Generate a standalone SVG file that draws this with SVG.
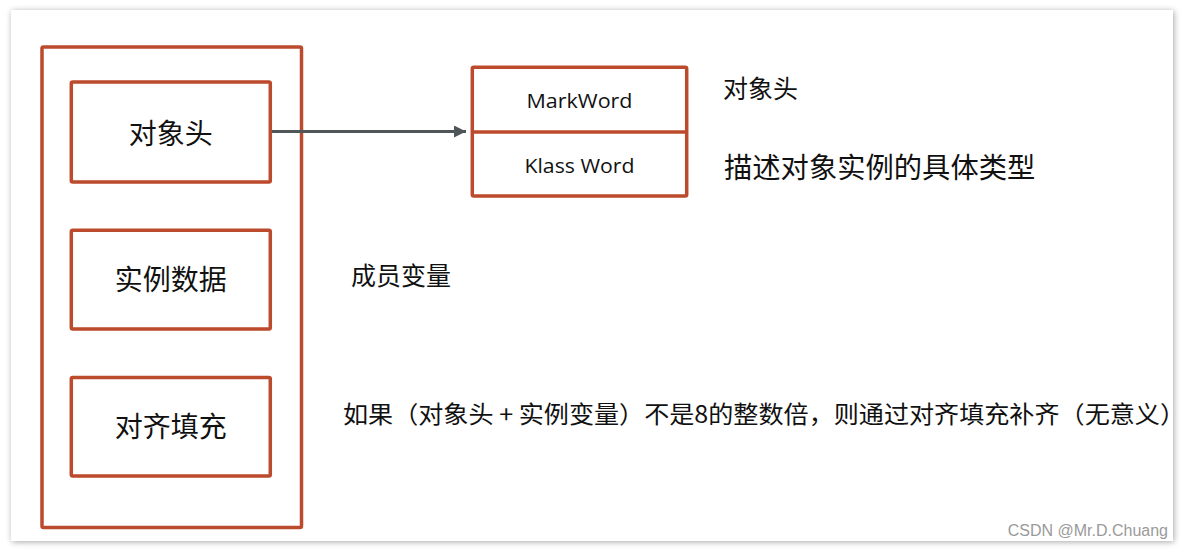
<svg xmlns="http://www.w3.org/2000/svg" width="1184" height="550" viewBox="0 0 1184 550">
<defs>
<style>
.box{fill:#ffffff;stroke:#BC4A2C;stroke-width:3.5;}
.cn{font-family:"Noto Sans CJK SC","Noto Sans",sans-serif;fill:#111111;}
.lat{font-family:"Open Sans","Noto Sans","Noto Sans CJK SC",sans-serif;fill:#111111;}
.conn{stroke:#4F5657;stroke-width:3.2;fill:none;}
</style>
<filter id="sh" x="-5%" y="-5%" width="110%" height="110%">
<feGaussianBlur in="SourceAlpha" stdDeviation="3"/>
<feOffset dx="1" dy="1" result="b"/>
<feComponentTransfer><feFuncA type="linear" slope="0.35"/></feComponentTransfer>
<feMerge><feMergeNode/><feMergeNode in="SourceGraphic"/></feMerge>
</filter>
<marker id="arr" markerWidth="12" markerHeight="12" refX="12" refY="6" orient="auto" markerUnits="userSpaceOnUse">
<path d="M0,0 L12,6 L0,12 Z" fill="#4F5657"/>
</marker>
</defs>
<rect x="0" y="0" width="1184" height="550" fill="#ffffff"/>
<rect x="11" y="10" width="1162" height="531" fill="#ffffff" filter="url(#sh)"/>

<g id="object">
<rect class="box" x="42" y="47" width="259.5" height="480.5" rx="1.5"/>
</g>
<g id="header">
<rect class="box" x="71.3" y="82" width="199" height="100" rx="1.5"/>
<text class="cn" x="170.8" y="144" font-size="28" text-anchor="middle">对象头</text>
</g>
<g id="instance-data">
<rect class="box" x="71.3" y="230.3" width="199" height="98.7" rx="1.5"/>
<text class="cn" x="170.8" y="290" font-size="28" text-anchor="middle">实例数据</text>
</g>
<g id="padding">
<rect class="box" x="71.3" y="377.5" width="199" height="98.5" rx="1.5"/>
<text class="cn" x="170.8" y="437" font-size="28" text-anchor="middle">对齐填充</text>
</g>
<g id="header-detail">
<rect class="box" x="472.3" y="67.3" width="214.4" height="128.7" rx="1.5"/>
<line x1="472.3" y1="132" x2="686.7" y2="132" stroke="#BC4A2C" stroke-width="3.5"/>
<text class="lat" x="579.5" y="108" font-size="20.5" text-anchor="middle" textLength="106" lengthAdjust="spacingAndGlyphs">MarkWord</text>
<text class="lat" x="579.5" y="173" font-size="20.5" text-anchor="middle" textLength="110" lengthAdjust="spacingAndGlyphs">Klass Word</text>
</g>
<g id="connectors">
<line class="conn" x1="272" y1="131.5" x2="466" y2="131.5" marker-end="url(#arr)"/>
</g>
<g id="labels">
<text class="cn" x="723" y="98" font-size="25" fill="#222">对象头</text>
<text class="cn" x="724" y="178" font-size="28.3" fill="#222">描述对象实例的具体类型</text>
<text class="cn" x="351" y="285" font-size="25" fill="#222">成员变量</text>
<text class="cn" x="343" y="423" font-size="24" fill="#222" textLength="842" lengthAdjust="spacingAndGlyphs">如果（对象头 + 实例变量）不是8的整数倍，则通过对齐填充补齐（无意义）</text>
<text x="1168" y="536" font-family="'Liberation Sans',sans-serif" font-size="16" fill="#9a9a9a" text-anchor="end">CSDN @Mr.D.Chuang</text>
</g>
</svg>
